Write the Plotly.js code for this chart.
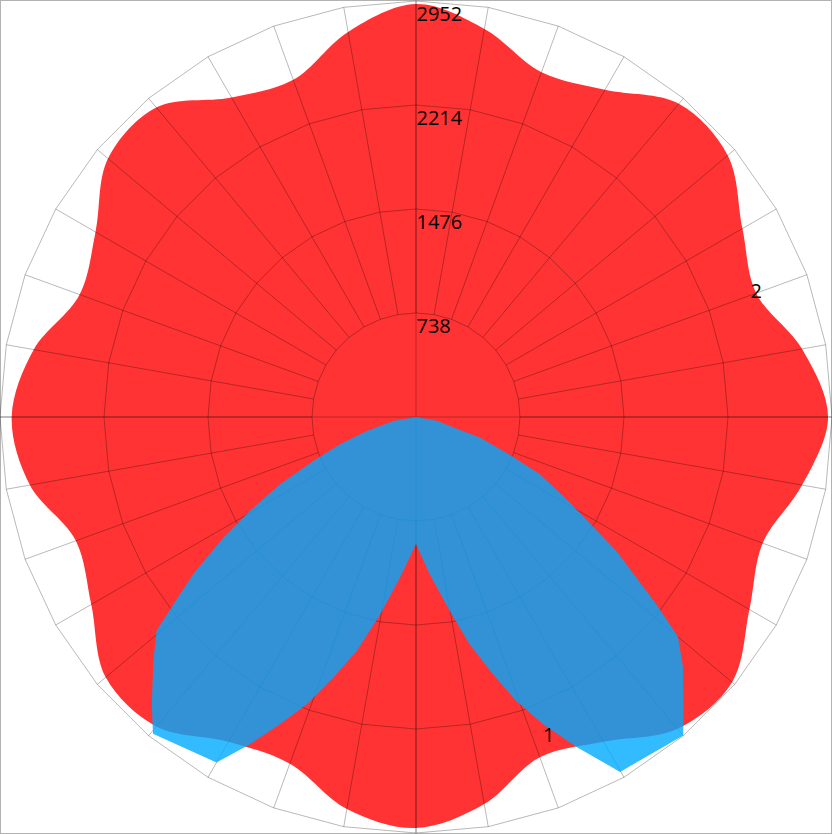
<!DOCTYPE html>
<html>
<head>
<meta charset="utf-8">
<script src="https://cdn.plot.ly/plotly-3.0.1.min.js"></script>
<style>html,body{margin:0;padding:0;background:#fff;}#chart{width:832px;height:834px;}</style>
</head>
<body>
<div id="chart"></div>
<script>
// ---- data ----
// 36 angular categories, 10 degrees apart, counter-clockwise from east
var categories = ["0","10","20","30","40","50","60","70","80","90","100","110","120","130","140","150","160","170",
                  "180","190","200","210","220","230","240","250","260","270","280","290","300","310","320","330","340","350"];
// series "2" (red, smooth), one value per category
var series2 = [2924,2782,2569,2675,2888,2902,2682,2604,2796,2930,2775,2547,2618,2867,2853,2626,2540,2754,
               2869,2782,2569,2661,2874,2867,2661,2618,2824,2917,2789,2569,2661,2888,2928,2732,2618,2782];
// series "1" (blue): outline angles (degrees) and radii
var series1Theta = [180,190,195.9,199.8,203.2,206.3,209.5,212.1,215.2,217.7,219.5,222.9,227.4,230.3,240,
                    243.1,246.1,249.2,252.4,255.8,259.7,264.3,270,
                    274.9,279.8,283.2,286.6,289.4,292.4,295.9,299.9,310,
                    312.7,316.9,320,322.1,326.3,331,335.2,338.2,342.1,345.2,350,360];
var series1R     = [0,163,362,573,793,1076,1354,1614,1934,2176,2386,2544,2770,2922,2831,
                    2604,2384,2181,1941,1713,1424,1146,901,
                    1116,1392,1653,1901,2132,2355,2602,2905,2950,
                    2799,2594,2427,2159,1706,1242,969,710,475,248,150,0];
var radialTicks = [738,1476,2214,2952];
var radialTickText = ["738","1476","2214","2952"];
var radialMax = 2952;
var label1 = {text: "1", x: 0.6595, y: 0.1196};

// ---- styles ----
var gridColor = "rgba(0,0,0,0.28)";
var fontFam = "Open Sans, Noto Sans, sans-serif";
var labelShift = 95;   // tick labels sit just inside their ring

// closed smooth loop for the spline: wrap one point before and two after
var n = categories.length;
var redTheta = [categories[n-1]].concat(categories, [categories[0], categories[1]]);
var redR = [series2[n-1]].concat(series2, [series2[0], series2[1]]);
var redText = redTheta.map(function(c, i){ return (c === "20" && i === 3) ? "2" : ""; });

var hiddenAngular = {type:"category", categoryarray:categories, categoryorder:"array",
  showgrid:false, showline:false, showticklabels:false, ticks:""};
var hiddenRadial = {range:[0, radialMax], showgrid:false, showline:false, showticklabels:false, ticks:""};

var traces = [
  { type:"scatterpolar", subplot:"polar", r:redR, theta:redTheta, mode:"lines+text",
    text:redText, textposition:"middle center", textfont:{family:fontFam, size:20, color:"#000"},
    line:{shape:"spline", width:0, color:"rgba(255,0,0,0.8)"}, fill:"toself",
    fillcolor:"rgba(255,0,0,0.8)", hoverinfo:"skip", showlegend:false, cliponaxis:false },
  // carrier for the outer grid (spokes beyond the first ring)
  { type:"scatterpolar", subplot:"polar2", r:categories.map(function(){return radialMax;}), theta:categories,
    mode:"lines", line:{width:0}, opacity:0, hoverinfo:"skip", showlegend:false },
  // carrier for the four main axes
  { type:"scatterpolar", subplot:"polar3", r:categories.map(function(){return radialMax;}), theta:categories,
    mode:"lines", line:{width:0}, opacity:0, hoverinfo:"skip", showlegend:false },
  { type:"scatterpolar", subplot:"polar4", r:series1R, theta:series1Theta, mode:"lines",
    line:{shape:"linear", width:0, color:"rgba(0,170,255,0.8)"}, fill:"toself",
    fillcolor:"rgba(0,170,255,0.8)", hoverinfo:"skip", showlegend:false }
];

var dom = {x:[0,1], y:[0,1]};
var layout = {
  width:832, height:834,
  margin:{l:0, r:0, t:0, b:0, pad:0},
  paper_bgcolor:"#fff",
  showlegend:false,
  font:{family:fontFam, size:20, color:"#000"},
  polar:{
    domain:dom, bgcolor:"#fff", gridshape:"linear",
    angularaxis:hiddenAngular,
    radialaxis:{range:[0, radialMax], angle:90, tickangle:90, tickmode:"array",
      tickvals:radialTicks.map(function(v){ return v - labelShift; }), ticktext:radialTickText,
      showgrid:false, showline:false, ticks:"", showticklabels:true,
      tickfont:{family:fontFam, size:20, color:"#000"}, layer:"above traces"}
  },
  polar2:{
    domain:dom, bgcolor:"rgba(0,0,0,0)", gridshape:"linear", hole:0.25,
    angularaxis:{type:"category", categoryarray:categories, categoryorder:"array",
      showgrid:true, gridcolor:gridColor, gridwidth:1, showline:true, linecolor:gridColor, linewidth:1,
      showticklabels:false, ticks:""},
    radialaxis:{range:[radialTicks[0], radialMax], angle:90, tickmode:"array", tickvals:[radialTicks[1], radialTicks[2]],
      showgrid:true, gridcolor:gridColor, gridwidth:1, showline:false, showticklabels:false, ticks:""}
  },
  polar3:{
    domain:dom, bgcolor:"rgba(0,0,0,0)", gridshape:"circular",
    angularaxis:{type:"category", categoryarray:categories, categoryorder:"array",
      tickmode:"array", tickvals:[categories[0], categories[9], categories[18], categories[27]],
      showgrid:true, gridcolor:gridColor, gridwidth:1, showline:false, showticklabels:false, ticks:""},
    radialaxis:{range:[0, radialMax], angle:90, showgrid:false, showline:false, showticklabels:false, ticks:""}
  },
  polar4:{
    domain:dom, bgcolor:"rgba(0,0,0,0)",
    angularaxis:{type:"linear", rotation:0, direction:"counterclockwise",
      showgrid:false, showline:false, showticklabels:false, ticks:""},
    radialaxis:hiddenRadial
  },
  annotations:[{xref:"paper", yref:"paper", x:label1.x, y:label1.y, text:label1.text, showarrow:false,
    xanchor:"center", yanchor:"middle", font:{family:fontFam, size:20, color:"#000"}}],
  shapes:[{type:"rect", xref:"paper", yref:"paper", x0:0, x1:1, y0:0, y1:1,
    line:{color:"rgba(0,0,0,0.3)", width:2}, fillcolor:"rgba(0,0,0,0)", layer:"above"}]
};

Plotly.newPlot("chart", traces, layout, {staticPlot:true, displayModeBar:false});
</script>
</body>
</html>
